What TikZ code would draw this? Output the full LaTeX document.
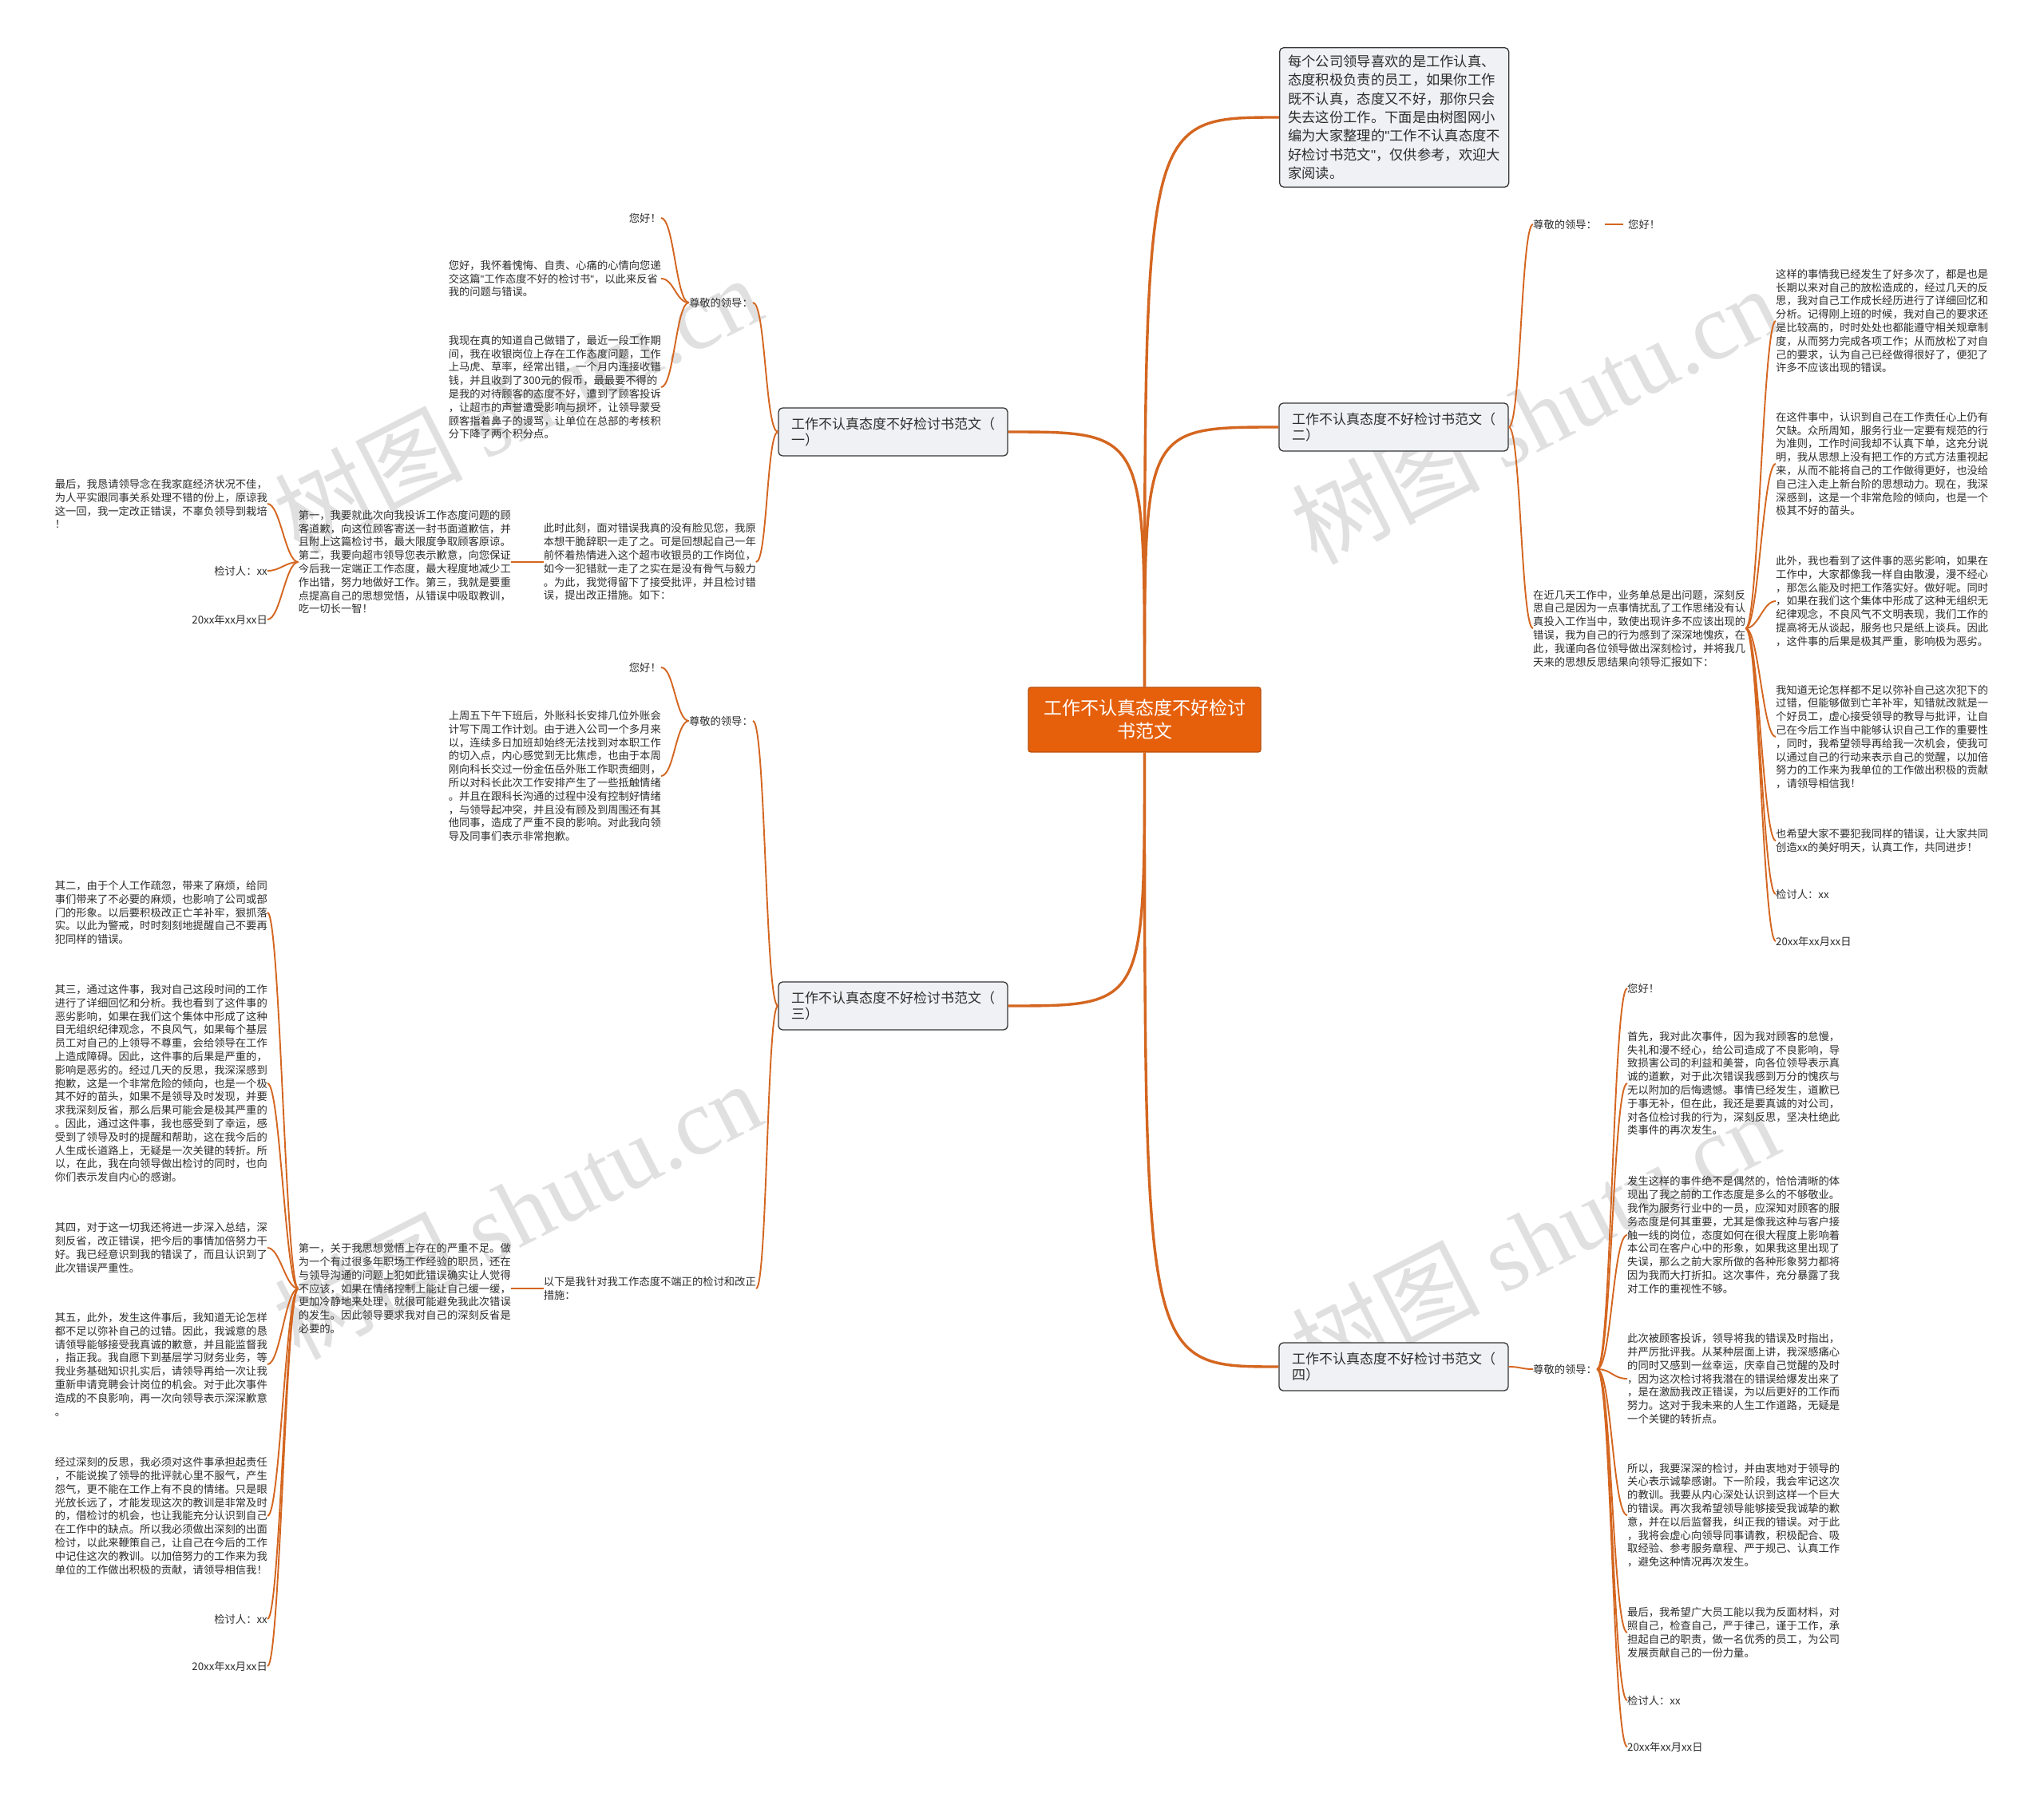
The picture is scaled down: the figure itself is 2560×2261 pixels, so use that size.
\documentclass[tikz,border=0pt]{standalone}
\usepackage{fontspec}
\setmainfont{Noto Sans CJK SC}
\newfontfamily\wmfont{Liberation Serif}
\newfontfamily\qfont{Liberation Sans}
\newcommand{\stq}{{\qfont"}}
\usetikzlibrary{calc}
\definecolor{mainor}{RGB}{230,96,12}
\definecolor{lineor}{RGB}{212,102,32}
\definecolor{boxfill}{RGB}{239,241,244}
\definecolor{boxline}{RGB}{55,55,55}
\definecolor{ptxt}{RGB}{45,45,45}
\definecolor{wmcol}{RGB}{224,224,224}
\newcommand{\lconn}[3]{\draw[subline] (#1.west) .. controls +(-#3,0) and +(#3,0) .. (#2.east);}
\newcommand{\rconn}[3]{\draw[subline] (#1.east) .. controls +(#3,0) and +(-#3,0) .. (#2.west);}
\tikzset{
  mainline/.style={draw=lineor, line width=3.4pt},
  subline/.style={draw=lineor, line width=1.9pt},
  para/.style={font=\fontsize{13.3}{16.8}\selectfont, align=left, inner sep=0pt, text=ptxt},
  lpara/.style={para, anchor=east},
  rpara/.style={para, anchor=west},
  branch/.style={draw=boxline, fill=boxfill, rounded corners=5pt, line width=1.3pt,
    font=\fontsize{17}{20.5}\selectfont, align=left, minimum width=287, minimum height=60,
    inner sep=0pt, text=ptxt},
  intro/.style={draw=boxline, fill=boxfill, rounded corners=5pt, line width=1.3pt,
    font=\fontsize{17.3}{23.4}\selectfont, align=left, inner xsep=6, inner ysep=9,
    minimum width=287, text=ptxt},
  centre/.style={draw=mainor!80!black, fill=mainor, rounded corners=3pt, line width=1.3pt,
    font=\fontsize{23}{29}\selectfont, align=center, minimum width=291, minimum height=81,
    inner sep=0pt, text=white},
  wmark/.style={rotate=27, text=wmcol, font=\fontsize{118}{118}\selectfont, inner sep=0pt}
}
\begin{document}
\begin{tikzpicture}[x=1pt,y=-1pt]
\fill[white] (0,0) rectangle (2560,2261);
\useasboundingbox (0,0) rectangle (2560,2261);

% watermarks
\node[wmark] (wm1) at (648,506) {树图 {\wmfont shutu.cn}};
\node[wmark] (wm2) at (1922,519) {树图 {\wmfont shutu.cn}};
\node[wmark] (wm3) at (648,1515) {树图 {\wmfont shutu.cn}};
\node[wmark] (wm4) at (1922,1551) {树图 {\wmfont shutu.cn}};

% centre and branches
\node[centre] (c) at (1433.5,901.5) {工作不认真态度不好检讨\\书范文};
\node[intro, anchor=west] (intro) at (1602,147) {每个公司领导喜欢的是工作认真、\\态度积极负责的员工，如果你工作\\既不认真，态度又不好，那你只会\\失去这份工作。下面是由树图网小\\编为大家整理的\stq 工作不认真态度不\\好检讨书范文\stq ，仅供参考，欢迎大\\家阅读。};
\node[branch] (b1) at (1118.5,541) {工作不认真态度不好检讨书范文（\\一）};
\node[branch] (b2) at (1745.5,535) {工作不认真态度不好检讨书范文（\\二）};
\node[branch] (b3) at (1118.5,1260) {工作不认真态度不好检讨书范文（\\三）};
\node[branch] (b4) at (1745.5,1712) {工作不认真态度不好检讨书范文（\\四）};

\draw[mainline] (c.north) .. controls (c.north |- intro.west) .. (intro.west);
\draw[mainline] (c.north) .. controls (c.north |- b1.east) .. (b1.east);
\draw[mainline] (c.north) .. controls (c.north |- b2.west) .. (b2.west);
\draw[mainline] (c.south) .. controls (c.south |- b3.east) .. (b3.east);
\draw[mainline] (c.south) .. controls (c.south |- b4.west) .. (b4.west);

% ---------- branch 1 ----------
\node[lpara] (a1) at (943,379) {尊敬的领导：};
\node[lpara] (a1x) at (828,273) {您好！};
\node[lpara] (a1y) at (828,349) {您好，我怀着愧悔、自责、心痛的心情向您递\\交这篇\stq 工作态度不好的检讨书\stq ，以此来反省\\我的问题与错误。};
\node[lpara] (a1z) at (828,485) {我现在真的知道自己做错了，最近一段工作期\\间，我在收银岗位上存在工作态度问题，工作\\上马虎、草率，经常出错，一个月内连接收错\\钱，并且收到了300元的假币，最最要不得的\\是我的对待顾客的态度不好，遭到了顾客投诉\\，让超市的声誉遭受影响与损坏，让领导蒙受\\顾客指着鼻子的谩骂，让单位在总部的考核积\\分下降了两个积分点。};
\node[lpara] (a2) at (947,704) {此时此刻，面对错误我真的没有脸见您，我原\\本想干脆辞职一走了之。可是回想起自己一年\\前怀着热情进入这个超市收银员的工作岗位，\\如今一犯错就一走了之实在是没有骨气与毅力\\。为此，我觉得留下了接受批评，并且检讨错\\误，提出改正措施。如下：};
\node[lpara] (a2a) at (640,704) {第一，我要就此次向我投诉工作态度问题的顾\\客道歉，向这位顾客寄送一封书面道歉信，并\\且附上这篇检讨书，最大限度争取顾客原谅。\\第二，我要向超市领导您表示歉意，向您保证\\今后我一定端正工作态度，最大程度地减少工\\作出错，努力地做好工作。第三，我就是要重\\点提高自己的思想觉悟，从错误中吸取教训，\\吃一切长一智！};
\node[lpara] (a2x) at (335,631) {最后，我恳请领导念在我家庭经济状况不佳，\\为人平实跟同事关系处理不错的份上，原谅我\\这一回，我一定改正错误，不辜负领导到栽培\\！};
\node[lpara] (a2y) at (335,715) {检讨人：xx};
\node[lpara] (a2z) at (335,776) {20xx年xx月xx日};

\lconn{b1}{a1}{16}
\lconn{b1}{a2}{14}
\lconn{a1}{a1x}{16}
\lconn{a1}{a1y}{16}
\lconn{a1}{a1z}{16}
\draw[subline] (a2.west) -- (a2a.east);
\lconn{a2a}{a2x}{16}
\lconn{a2a}{a2y}{16}
\lconn{a2a}{a2z}{16}

% ---------- branch 3 ----------
\node[lpara] (c1) at (943,903) {尊敬的领导：};
\node[lpara] (c1x) at (828,836) {您好！};
\node[lpara] (c1y) at (828,972) {上周五下午下班后，外账科长安排几位外账会\\计写下周工作计划。由于进入公司一个多月来\\以，连续多日加班却始终无法找到对本职工作\\的切入点，内心感觉到无比焦虑，也由于本周\\刚向科长交过一份金伍岳外账工作职责细则，\\所以对科长此次工作安排产生了一些抵触情绪\\。并且在跟科长沟通的过程中没有控制好情绪\\，与领导起冲突，并且没有顾及到周围还有其\\他同事，造成了严重不良的影响。对此我向领\\导及同事们表示非常抱歉。};
\node[lpara] (c2) at (947,1614) {以下是我针对我工作态度不端正的检讨和改正\\措施：};
\node[lpara] (c2a) at (640,1614) {第一，关于我思想觉悟上存在的严重不足。做\\为一个有过很多年职场工作经验的职员，还在\\与领导沟通的问题上犯如此错误确实让人觉得\\不应该，如果在情绪控制上能让自己缓一缓，\\更加冷静地来处理，就很可能避免我此次错误\\的发生。因此领导要求我对自己的深刻反省是\\必要的。};
\node[lpara] (c2b) at (335,1143) {其二，由于个人工作疏忽，带来了麻烦，给同\\事们带来了不必要的麻烦，也影响了公司或部\\门的形象。以后要积极改正亡羊补牢，狠抓落\\实。以此为警戒，时时刻刻地提醒自己不要再\\犯同样的错误。};
\node[lpara] (c2c) at (335,1357) {其三，通过这件事，我对自己这段时间的工作\\进行了详细回忆和分析。我也看到了这件事的\\恶劣影响，如果在我们这个集体中形成了这种\\目无组织纪律观念，不良风气，如果每个基层\\员工对自己的上领导不尊重，会给领导在工作\\上造成障碍。因此，这件事的后果是严重的，\\影响是恶劣的。经过几天的反思，我深深感到\\抱歉，这是一个非常危险的倾向，也是一个极\\其不好的苗头，如果不是领导及时发现，并要\\求我深刻反省，那么后果可能会是极其严重的\\。因此，通过这件事，我也感受到了幸运，感\\受到了领导及时的提醒和帮助，这在我今后的\\人生成长道路上，无疑是一次关键的转折。所\\以，在此，我在向领导做出检讨的同时，也向\\你们表示发自内心的感谢。};
\node[lpara] (c2d) at (335,1563) {其四，对于这一切我还将进一步深入总结，深\\刻反省，改正错误，把今后的事情加倍努力干\\好。我已经意识到我的错误了，而且认识到了\\此次错误严重性。};
\node[lpara] (c2e) at (335,1709) {其五，此外，发生这件事后，我知道无论怎样\\都不足以弥补自己的过错。因此，我诚意的恳\\请领导能够接受我真诚的歉意，并且能监督我\\，指正我。我自愿下到基层学习财务业务，等\\我业务基础知识扎实后，请领导再给一次让我\\重新申请竞聘会计岗位的机会。对于此次事件\\造成的不良影响，再一次向领导表示深深歉意\\。};
\node[lpara] (c2f) at (335,1899) {经过深刻的反思，我必须对这件事承担起责任\\，不能说挨了领导的批评就心里不服气，产生\\怨气，更不能在工作上有不良的情绪。只是眼\\光放长远了，才能发现这次的教训是非常及时\\的，借检讨的机会，也让我能充分认识到自己\\在工作中的缺点。所以我必须做出深刻的出面\\检讨，以此来鞭策自己，让自己在今后的工作\\中记住这次的教训。以加倍努力的工作来为我\\单位的工作做出积极的贡献，请领导相信我！};
\node[lpara] (c2g) at (335,2028) {检讨人：xx};
\node[lpara] (c2h) at (335,2087) {20xx年xx月xx日};

\lconn{b3}{c1}{16}
\lconn{b3}{c2}{14}
\lconn{c1}{c1x}{16}
\lconn{c1}{c1y}{16}
\draw[subline] (c2.west) -- (c2a.east);
\lconn{c2a}{c2b}{16}
\lconn{c2a}{c2c}{16}
\lconn{c2a}{c2d}{16}
\lconn{c2a}{c2e}{16}
\lconn{c2a}{c2f}{16}
\lconn{c2a}{c2g}{16}
\lconn{c2a}{c2h}{16}

% ---------- branch 2 ----------
\node[rpara] (d1) at (1920,281) {尊敬的领导：};
\node[rpara] (d1x) at (2039,281) {您好！};
\node[rpara] (d2) at (1920,787) {在近几天工作中，业务单总是出问题，深刻反\\思自己是因为一点事情扰乱了工作思绪没有认\\真投入工作当中，致使出现许多不应该出现的\\错误，我为自己的行为感到了深深地愧疚，在\\此，我谨向各位领导做出深刻检讨，并将我几\\天来的思想反思结果向领导汇报如下：};
\node[rpara] (d2a) at (2224,402) {这样的事情我已经发生了好多次了，都是也是\\长期以来对自己的放松造成的，经过几天的反\\思，我对自己工作成长经历进行了详细回忆和\\分析。记得刚上班的时候，我对自己的要求还\\是比较高的，时时处处也都能遵守相关规章制\\度，从而努力完成各项工作；从而放松了对自\\己的要求，认为自己已经做得很好了，便犯了\\许多不应该出现的错误。};
\node[rpara] (d2b) at (2224,581) {在这件事中，认识到自己在工作责任心上仍有\\欠缺。众所周知，服务行业一定要有规范的行\\为准则，工作时间我却不认真下单，这充分说\\明，我从思想上没有把工作的方式方法重视起\\来，从而不能将自己的工作做得更好，也没给\\自己注入走上新台阶的思想动力。现在，我深\\深感到，这是一个非常危险的倾向，也是一个\\极其不好的苗头。};
\node[rpara] (d2c) at (2224,753) {此外，我也看到了这件事的恶劣影响，如果在\\工作中，大家都像我一样自由散漫，漫不经心\\，那怎么能及时把工作落实好。做好呢。同时\\，如果在我们这个集体中形成了这种无组织无\\纪律观念，不良风气不文明表现，我们工作的\\提高将无从谈起，服务也只是纸上谈兵。因此\\，这件事的后果是极其严重，影响极为恶劣。};
\node[rpara] (d2d) at (2224,923) {我知道无论怎样都不足以弥补自己这次犯下的\\过错，但能够做到亡羊补牢，知错就改就是一\\个好员工，虚心接受领导的教导与批评，让自\\己在今后工作当中能够认识自己工作的重要性\\，同时，我希望领导再给我一次机会，使我可\\以通过自己的行动来表示自己的觉醒，以加倍\\努力的工作来为我单位的工作做出积极的贡献\\，请领导相信我！};
\node[rpara] (d2e) at (2224,1053) {也希望大家不要犯我同样的错误，让大家共同\\创造xx的美好明天，认真工作，共同进步！};
\node[rpara] (d2f) at (2224,1120) {检讨人：xx};
\node[rpara] (d2g) at (2224,1179) {20xx年xx月xx日};

\rconn{b2}{d1}{15}
\rconn{b2}{d2}{15}
\draw[subline] ([xshift=10pt]d1.east) -- ([xshift=-6pt]d1x.west);
\rconn{d2}{d2a}{16}
\rconn{d2}{d2b}{16}
\rconn{d2}{d2c}{16}
\rconn{d2}{d2d}{16}
\rconn{d2}{d2e}{16}
\rconn{d2}{d2f}{16}
\rconn{d2}{d2g}{16}

% ---------- branch 4 ----------
\node[rpara] (e1) at (1920,1715) {尊敬的领导：};
\node[rpara] (e1a) at (2038,1238) {您好！};
\node[rpara] (e1b) at (2038,1357) {首先，我对此次事件，因为我对顾客的怠慢，\\失礼和漫不经心，给公司造成了不良影响，导\\致损害公司的利益和美誉，向各位领导表示真\\诚的道歉，对于此次错误我感到万分的愧疚与\\无以附加的后悔遗憾。事情已经发生，道歉已\\于事无补，但在此，我还是要真诚的对公司，\\对各位检讨我的行为，深刻反思，坚决杜绝此\\类事件的再次发生。};
\node[rpara] (e1c) at (2038,1547) {发生这样的事件绝不是偶然的，恰恰清晰的体\\现出了我之前的工作态度是多么的不够敬业。\\我作为服务行业中的一员，应深知对顾客的服\\务态度是何其重要，尤其是像我这种与客户接\\触一线的岗位，态度如何在很大程度上影响着\\本公司在客户心中的形象，如果我这里出现了\\失误，那么之前大家所做的各种形象努力都将\\因为我而大打折扣。这次事件，充分暴露了我\\对工作的重视性不够。};
\node[rpara] (e1d) at (2038,1727) {此次被顾客投诉，领导将我的错误及时指出，\\并严厉批评我。从某种层面上讲，我深感痛心\\的同时又感到一丝幸运，庆幸自己觉醒的及时\\，因为这次检讨将我潜在的错误给爆发出来了\\，是在激励我改正错误，为以后更好的工作而\\努力。这对于我未来的人生工作道路，无疑是\\一个关键的转折点。};
\node[rpara] (e1e) at (2038,1898) {所以，我要深深的检讨，并由衷地对于领导的\\关心表示诚挚感谢。下一阶段，我会牢记这次\\的教训。我要从内心深处认识到这样一个巨大\\的错误。再次我希望领导能够接受我诚挚的歉\\意，并在以后监督我，纠正我的错误。对于此\\，我将会虚心向领导同事请教，积极配合、吸\\取经验、参考服务章程、严于规己、认真工作\\，避免这种情况再次发生。};
\node[rpara] (e1f) at (2038,2045) {最后，我希望广大员工能以我为反面材料，对\\照自己，检查自己，严于律己，谨于工作，承\\担起自己的职责，做一名优秀的员工，为公司\\发展贡献自己的一份力量。};
\node[rpara] (e1g) at (2038,2130) {检讨人：xx};
\node[rpara] (e1h) at (2038,2188) {20xx年xx月xx日};

\rconn{b4}{e1}{15}
\rconn{e1}{e1a}{18}
\rconn{e1}{e1b}{18}
\rconn{e1}{e1c}{18}
\rconn{e1}{e1d}{18}
\rconn{e1}{e1e}{18}
\rconn{e1}{e1f}{18}
\rconn{e1}{e1g}{18}
\rconn{e1}{e1h}{18}
\end{tikzpicture}
\end{document}
